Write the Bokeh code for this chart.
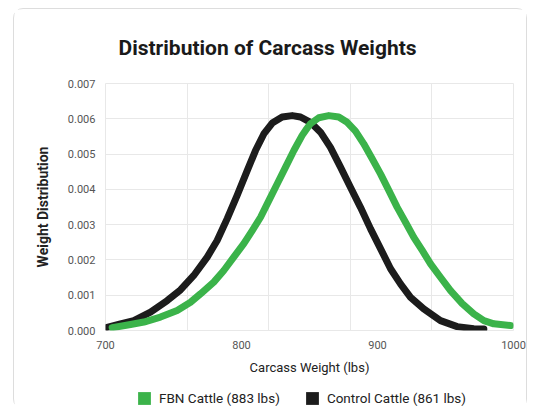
from bokeh.plotting import figure
from bokeh.layouts import column
from bokeh.models import Range1d, FixedTicker, Legend, LegendItem
from bokeh.embed import file_html
from bokeh.resources import INLINE

# ---------------- data ----------------
title_text = "Distribution of Carcass Weights"
x_label = "Carcass Weight (lbs)"
y_label = "Weight Distribution"

x_ticks = [700, 800, 900, 1000]
x_grid_ticks = [700, 760, 820, 880, 940, 1000]
y_ticks = [0.000, 0.001, 0.002, 0.003, 0.004, 0.005, 0.006, 0.007]
y_tick_labels = ["0.000", "0.001", "0.002", "0.003", "0.004", "0.005", "0.006", "0.007"]

fbn_label = "FBN Cattle (883 lbs)"
control_label = "Control Cattle (861 lbs)"

control_x = [701.2, 711.0, 720.8, 733.1, 745.4, 755.1, 764.9, 774.8, 782.1,
             789.5, 796.8, 804.2, 810.3, 816.4, 822.6, 829.9, 837.3, 843.4,
             850.7, 858.1, 865.4, 872.8, 880.1, 887.5, 894.9, 902.2, 909.6,
             916.9, 924.3, 934.0, 946.3, 958.6, 970.8, 978.2]
control_y = [0.00009, 0.00019, 0.00028, 0.00052, 0.00085, 0.00115, 0.00156,
             0.00208, 0.00255, 0.00317, 0.00383, 0.00453, 0.00510, 0.00557,
             0.00588, 0.00605, 0.00609, 0.00605, 0.00590, 0.00562, 0.00519,
             0.00463, 0.00406, 0.00349, 0.00288, 0.00232, 0.00175, 0.00132,
             0.00094, 0.00061, 0.00028, 0.00011, 0.00005, 0.00004]

fbn_x = [704.9, 718.4, 728.2, 740.4, 752.7, 762.5, 769.9, 779.6, 787.0,
         794.3, 801.7, 807.9, 814.0, 820.1, 826.3, 832.4, 838.5, 844.6,
         847.1, 850.7, 856.8, 864.2, 871.5, 877.7, 883.8, 889.9, 896.1,
         902.2, 908.3, 914.5, 920.6, 926.7, 932.9, 939.0, 946.3, 953.7,
         962.3, 970.8, 978.2, 985.5, 997.8]
fbn_y = [0.00008, 0.00017, 0.00024, 0.00038, 0.00057, 0.00080, 0.00104,
         0.00137, 0.00170, 0.00208, 0.00246, 0.00283, 0.00321, 0.00368,
         0.00416, 0.00463, 0.00510, 0.00553, 0.00567, 0.00586, 0.00603,
         0.00609, 0.00605, 0.00590, 0.00565, 0.00529, 0.00487, 0.00444,
         0.00397, 0.00349, 0.00307, 0.00264, 0.00227, 0.00189, 0.00151,
         0.00113, 0.00076, 0.00047, 0.00028, 0.00019, 0.00014]

GREEN = "#3bb34a"
BLACK = "#1c1c1c"
GRID = "#e8e8e8"

# ---------------- main figure ----------------
p = figure(width=512, height=371, output_backend="svg", toolbar_location=None,
           x_range=Range1d(700, 1000), y_range=Range1d(0, 0.007),
           min_border_left=91, min_border_right=13, min_border_top=74,
           min_border_bottom=50)
p.background_fill_color = "white"
p.border_fill_color = "white"
p.outline_line_color = GRID

p.title.text = title_text
p.title.align = "left"
p.title.offset = -6
p.title.padding = 19
p.title.text_font = "Roboto"
p.title.text_font_style = "bold"
p.title.text_font_size = "21px"
p.title.text_color = "#1a1a1a"

for ax in (p.xaxis[0], p.yaxis[0]):
    ax.axis_line_color = None
    ax.major_tick_line_color = None
    ax.minor_tick_line_color = None
    ax.major_tick_out = 0
    ax.major_tick_in = 0
    ax.minor_tick_out = 0
    ax.major_label_text_font = "Roboto"
    ax.major_label_text_font_size = "11px"
    ax.major_label_text_color = "#555555"
    ax.axis_label_text_font = "Roboto"
    ax.axis_label_text_color = "#222222"

p.xaxis.ticker = FixedTicker(ticks=x_ticks)
p.xaxis.major_label_standoff = 10
p.xaxis.axis_label = x_label
p.xaxis.axis_label_standoff = 8
p.xaxis.axis_label_text_font_size = "13px"
p.xaxis.axis_label_text_font_style = "normal"

p.yaxis.ticker = FixedTicker(ticks=y_ticks)
p.yaxis.major_label_overrides = {t: l for t, l in zip(y_ticks, y_tick_labels)}
p.yaxis.major_label_standoff = 10
p.yaxis.axis_label = y_label
p.yaxis.axis_label_standoff = 14
p.yaxis.axis_label_text_font_size = "14px"
p.yaxis.axis_label_text_font_style = "bold"

p.xgrid.ticker = FixedTicker(ticks=x_grid_ticks)
p.ygrid.ticker = FixedTicker(ticks=y_ticks)
p.xgrid.grid_line_color = GRID
p.ygrid.grid_line_color = GRID

p.line(control_x, control_y, line_color=BLACK, line_width=7,
       line_join="round", line_cap="round")
p.line(fbn_x, fbn_y, line_color=GREEN, line_width=7,
       line_join="round", line_cap="round")

# ---------------- legend strip ----------------
pl = figure(width=512, height=28, output_backend="svg", toolbar_location=None,
            x_axis_type=None, y_axis_type=None,
            x_range=Range1d(0, 1), y_range=Range1d(0, 1),
            min_border_left=40, min_border_right=0, min_border_top=0,
            min_border_bottom=0)
pl.outline_line_color = None
pl.grid.visible = False
pl.border_fill_color = "white"

# hidden area renderers of the two series, used only for square legend swatches
sw_fbn = pl.quad(left=fbn_x, right=fbn_x, top=fbn_y, bottom=0,
                 fill_color=GREEN, line_color=None, visible=False)
sw_ctl = pl.quad(left=control_x, right=control_x, top=control_y, bottom=0,
                 fill_color=BLACK, line_color=None, visible=False)

legend = Legend(items=[LegendItem(label=fbn_label, renderers=[sw_fbn]),
                       LegendItem(label=control_label, renderers=[sw_ctl])],
                orientation="horizontal", location=(31, 2))
legend.border_line_color = None
legend.background_fill_alpha = 0
legend.inactive_fill_alpha = 0
legend.glyph_width = 16
legend.glyph_height = 16
legend.label_standoff = 7
legend.spacing = 24
legend.padding = 4
legend.margin = 0
legend.label_text_font = "Roboto"
legend.label_text_font_size = "13.5px"
legend.label_text_color = "#222222"
pl.add_layout(legend, "center")

layout = column(p, pl, spacing=0,
                styles={"border": "1px solid #dddddd", "border-radius": "10px",
                        "margin-left": "13px", "margin-top": "8px"})

open("out.html", "w").write(file_html(layout, INLINE))
